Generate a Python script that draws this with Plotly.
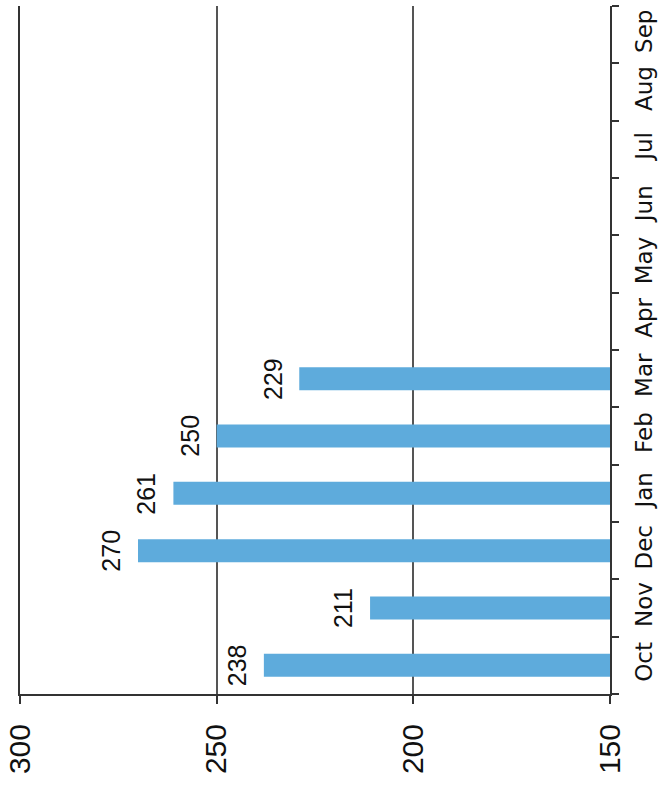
import plotly.graph_objects as go

months = ["Oct", "Nov", "Dec", "Jan", "Feb", "Mar", "Apr", "May", "Jun", "Jul", "Aug", "Sep"]
values = [238, 211, 270, 261, 250, 229, None, None, None, None, None, None]
value_ticks = [150, 200, 250, 300]
value_tick_labels = ["150", "200", "250", "300"]

MONTH_FONT = "DejaVu Sans"
NUM_FONT = "Liberation Sans"
BAR_COLOR = "#5eabdc"

fig = go.Figure()
fig.add_trace(go.Bar(
    y=months, x=values, orientation="h",
    marker=dict(color=BAR_COLOR, line=dict(width=0)),
    width=0.4,
    hoverinfo="skip",
))

annotations = []
for m, v in zip(months, values):
    if v is None:
        continue
    annotations.append(dict(
        x=v, y=m, xref="x", yref="y",
        text=str(v), showarrow=False, textangle=-90,
        xanchor="center", yanchor="middle", xshift=-27,
        font=dict(family=NUM_FONT, size=25, color="#111111"),
    ))

fig.update_layout(
    width=660, height=786,
    margin=dict(l=20, r=50, t=6, b=92, autoexpand=False),
    paper_bgcolor="white", plot_bgcolor="white",
    showlegend=False,
    annotations=annotations,
    xaxis=dict(
        range=[300, 150], tickvals=value_ticks, ticktext=value_tick_labels,
        tickangle=-90, ticks="outside", ticklen=8, tickwidth=1.5, tickcolor="#333333",
        showline=True, linecolor="#333333", linewidth=2,
        showgrid=True, gridcolor="#555555", gridwidth=1.5,
        zeroline=False, automargin=False,
        tickfont=dict(family=NUM_FONT, size=30, color="#111111"),
        ticklabelstandoff=8,
    ),
    yaxis=dict(
        type="category", categoryorder="array", categoryarray=months,
        range=[-0.5, 11.5], side="right",
        tickangle=-90, ticks="outside", tickson="boundaries", ticklen=7,
        tickwidth=1.5, tickcolor="#333333",
        showline=True, linecolor="#333333", linewidth=2, mirror=True,
        showgrid=False, zeroline=False, automargin=False,
        tickfont=dict(family=MONTH_FONT, size=23, color="#111111"),
        ticklabelstandoff=12,
    ),
)

fig.write_html(
    "out.html",
    config={"displayModeBar": False},
    post_script="document.body.style.margin='0';document.body.style.overflow='hidden';",
)
